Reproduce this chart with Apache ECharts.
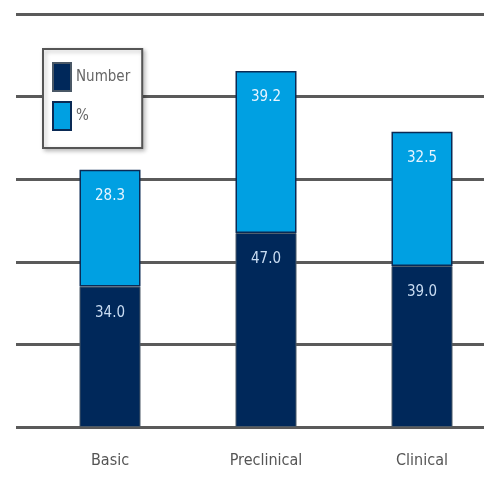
<!DOCTYPE html>
<html><head><meta charset="utf-8">
<script src="https://cdn.jsdelivr.net/npm/echarts@6/dist/echarts.min.js"></script>
<style>html,body{margin:0;padding:0;background:#fff}#c{width:500px;height:500px}</style>
</head><body><div id="c"></div>
<script>
const categories = ['Basic', 'Preclinical', 'Clinical'];
const numberValues = [34.0, 47.0, 39.0];
const percentValues = [28.3, 39.2, 32.5];
const seriesNames = ['Number', '%'];

const chart = echarts.init(document.getElementById('c'));
const fam = '"DejaVu Sans Condensed", "Liberation Sans Narrow", sans-serif';
chart.setOption({
  animation: false,
  backgroundColor: '#fff',
  grid: [
    { left: 16, right: 16, top: 14, bottom: 73 },
    { left: 32, right: 0, top: 14, bottom: 73 }
  ],
  legend: {
    orient: 'vertical',
    left: 43, top: 49,
    padding: [13, 12, 17, 9],
    itemWidth: 18, itemHeight: 28, itemGap: 9,
    backgroundColor: '#fff',
    borderColor: '#555', borderWidth: 2,
    shadowColor: 'rgba(0,0,0,0.25)', shadowBlur: 4, shadowOffsetX: 2, shadowOffsetY: 2,
    textStyle: { color: '#666', fontSize: 15, fontFamily: fam },
    icon: 'rect',
    data: seriesNames
  },
  xAxis: [
    { type: 'category', gridIndex: 0, data: categories, show: false },
    {
      type: 'category', gridIndex: 1, data: categories,
      axisLine: { show: false }, axisTick: { show: false },
      axisLabel: { color: '#555', fontSize: 16, fontFamily: fam, margin: 26 }
    }
  ],
  yAxis: [
    {
      type: 'value', gridIndex: 0, min: 0, max: 100, interval: 20,
      axisLabel: { show: false }, axisLine: { show: false }, axisTick: { show: false },
      splitLine: { lineStyle: { color: '#5a5a5a', width: 3 } }
    },
    {
      type: 'value', gridIndex: 1, min: 0, max: 100, interval: 20, show: false,
      splitLine: { show: false }
    }
  ],
  series: [
    {
      name: seriesNames[0], type: 'bar', stack: 'a', barWidth: 61, data: numberValues,
      xAxisIndex: 1, yAxisIndex: 1,
      itemStyle: { color: '#00285a', borderColor: '#4a5866', borderWidth: 1 },
      label: { show: true, position: 'insideTop', distance: 19, color: '#c8dcf2',
        formatter: p => p.value.toFixed(1), fontSize: 15, fontFamily: fam }
    },
    {
      name: seriesNames[1], type: 'bar', stack: 'a', barWidth: 61, data: percentValues,
      xAxisIndex: 1, yAxisIndex: 1,
      itemStyle: { color: '#00a0e2', borderColor: '#0a2a55', borderWidth: 1.5 },
      label: { show: true, position: 'insideTop', distance: 19, color: '#e6f4ff',
        formatter: p => p.value.toFixed(1), fontSize: 15, fontFamily: fam }
    }
  ]
});
</script></body></html>
